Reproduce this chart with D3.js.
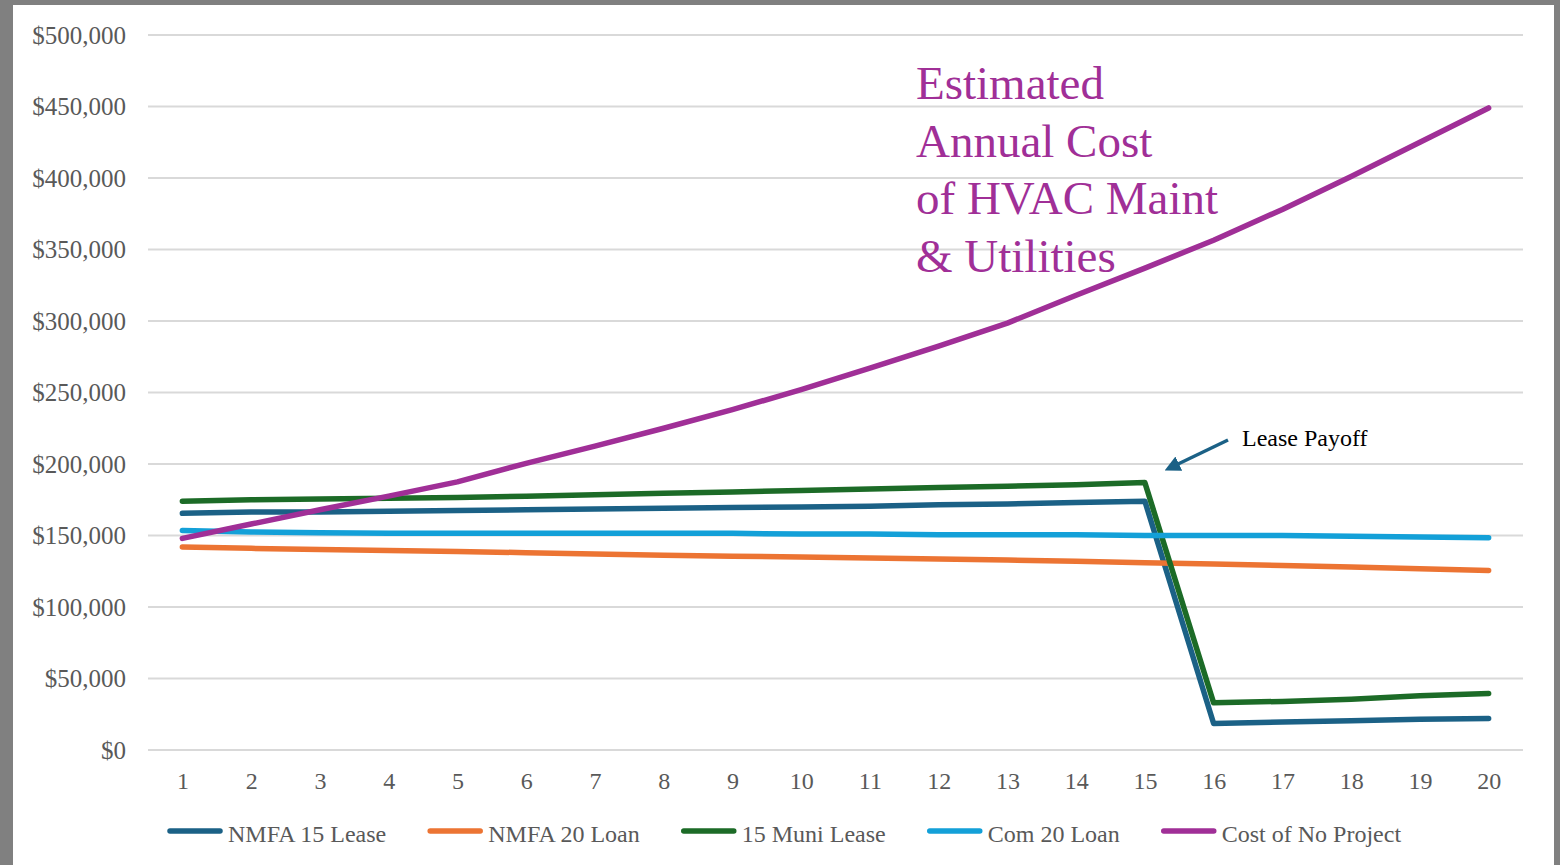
<!DOCTYPE html>
<html>
<head>
<meta charset="utf-8">
<script src="https://cdn.jsdelivr.net/npm/d3@7"></script>
<style>
  body { margin: 0; background: #808080; }
  svg { display: block; }
  text { font-family: "Liberation Serif", "DejaVu Serif", serif; }
</style>
</head>
<body>
<svg width="1560" height="865"></svg>
<script>
// years 1..20
const years = d3.range(1, 21);

// series values (dollars)
const nmfa15Lease = [165500, 166500, 166500, 167000, 167500, 168000, 168500, 169000, 169500, 170000,
  170500, 171500, 172000, 173000, 174000, 18500, 19500, 20500, 21500, 22000];
const nmfa20Loan = [142000, 141000, 140200, 139500, 138800, 138000, 137000, 136200, 135500, 135000,
  134300, 133500, 132800, 132000, 131000, 130000, 129000, 128000, 126800, 125500];
const muni15Lease = [174000, 175000, 175500, 176000, 176500, 177500, 178500, 179500, 180500, 181500,
  182500, 183500, 184500, 185500, 187000, 33000, 34000, 35500, 38000, 39500];
const com20Loan = [153500, 152500, 152000, 151500, 151500, 151500, 151500, 151500, 151500, 151000,
  151000, 150500, 150500, 150500, 150000, 150000, 150000, 149500, 149000, 148500];
const noProject = [148000, 158000, 168000, 177500, 187500, 200500, 212500, 225000, 238000, 252000,
  267000, 282500, 298500, 318000, 337000, 356500, 378000, 401000, 425000, 449000];

const seriesNames = ['NMFA 15 Lease', 'NMFA 20 Loan', '15 Muni Lease', 'Com 20 Loan', 'Cost of No Project'];
const seriesColors = ['#1b6186', '#ec7433', '#1c6b27', '#13a0d8', '#a02f97'];
const seriesValues = [nmfa15Lease, nmfa20Loan, muni15Lease, com20Loan, noProject];

const yTicks = d3.range(0, 500001, 50000);
const titleLines = ['Estimated', 'Annual Cost', 'of HVAC Maint', '& Utilities'];

const svg = d3.select('svg');

// white chart area inside grey frame
svg.append('rect')
  .attr('x', 13).attr('y', 5)
  .attr('width', 1541).attr('height', 860)
  .attr('fill', '#fff');

const margin = {top: 35, left: 148, right: 37, bottom: 115};
const width = 1560 - margin.left - margin.right;
const height = 865 - margin.top - margin.bottom;

const graph = svg.append('g')
  .attr('transform', `translate(${margin.left},${margin.top})`);

const x = d3.scalePoint()
  .domain(years)
  .range([0, width])
  .padding(0.5);

const y = d3.scaleLinear()
  .domain([0, 500000])
  .range([height, 0]);

// gridlines
graph.append('g')
  .selectAll('line')
  .data(yTicks)
  .enter()
  .append('line')
  .attr('x1', 0).attr('x2', width)
  .attr('y1', d => y(d)).attr('y2', d => y(d))
  .attr('stroke', '#d9d9d9')
  .attr('stroke-width', 2);

// y axis labels
const yAxis = d3.axisLeft(y)
  .tickValues(yTicks)
  .tickSize(0)
  .tickPadding(22)
  .tickFormat(d => '$' + d3.format(',')(d));
const yAxisGroup = graph.append('g').call(yAxis);
yAxisGroup.select('.domain').remove();
yAxisGroup.selectAll('text')
  .attr('fill', '#595959')
  .style('font-size', '25px')
  .style('font-family', '"Liberation Serif", serif');

// x axis labels
const xAxis = d3.axisBottom(x).tickSize(0).tickPadding(22);
const xAxisGroup = graph.append('g')
  .attr('transform', `translate(0,${height})`)
  .call(xAxis);
xAxisGroup.select('.domain').remove();
xAxisGroup.selectAll('text')
  .attr('fill', '#595959')
  .style('font-size', '24px')
  .style('font-family', '"Liberation Serif", serif');

// lines
const line = d3.line()
  .x((d, i) => x(years[i]))
  .y(d => y(d));

graph.selectAll('path.series')
  .data(seriesValues)
  .enter()
  .append('path')
  .attr('class', 'series')
  .attr('d', line)
  .attr('fill', 'none')
  .attr('stroke', (d, i) => seriesColors[i])
  .attr('stroke-width', 5.5)
  .attr('stroke-linecap', 'round')
  .attr('stroke-linejoin', 'round');

// annotation title
svg.append('text')
  .attr('x', 916)
  .attr('y', 99)
  .attr('fill', '#a02f97')
  .style('font-size', '47px')
  .selectAll('tspan')
  .data(titleLines)
  .enter()
  .append('tspan')
  .attr('x', 916)
  .attr('dy', (d, i) => i === 0 ? 0 : 57.5)
  .text(d => d);

// lease payoff arrow
svg.append('defs').append('marker')
  .attr('id', 'arrow')
  .attr('viewBox', '0 0 10 10')
  .attr('refX', 2).attr('refY', 5)
  .attr('markerWidth', 4.5).attr('markerHeight', 4.5)
  .attr('orient', 'auto')
  .append('path')
  .attr('d', 'M0,0 L10,5 L0,10 z')
  .attr('fill', '#1b6186');

svg.append('line')
  .attr('x1', 1228).attr('y1', 440)
  .attr('x2', 1176).attr('y2', 465)
  .attr('stroke', '#1b6186')
  .attr('stroke-width', 3.5)
  .attr('marker-end', 'url(#arrow)');

svg.append('text')
  .attr('x', 1242).attr('y', 446)
  .attr('fill', '#000')
  .style('font-size', '24px')
  .text('Lease Payoff');

// legend
const legend = svg.append('g').attr('transform', 'translate(0,834)');
let lx = 168;
seriesNames.forEach((name, i) => {
  legend.append('line')
    .attr('x1', lx + 2).attr('x2', lx + 52)
    .attr('y1', -3).attr('y2', -3)
    .attr('stroke', seriesColors[i])
    .attr('stroke-width', 5.5)
    .attr('stroke-linecap', 'round');
  const t = legend.append('text')
    .attr('x', lx + 60)
    .attr('y', 8)
    .attr('fill', '#595959')
    .style('font-size', '24px')
    .text(name);
  lx = lx + 60 + t.node().getComputedTextLength() + 42;
});
</script>
</body>
</html>
